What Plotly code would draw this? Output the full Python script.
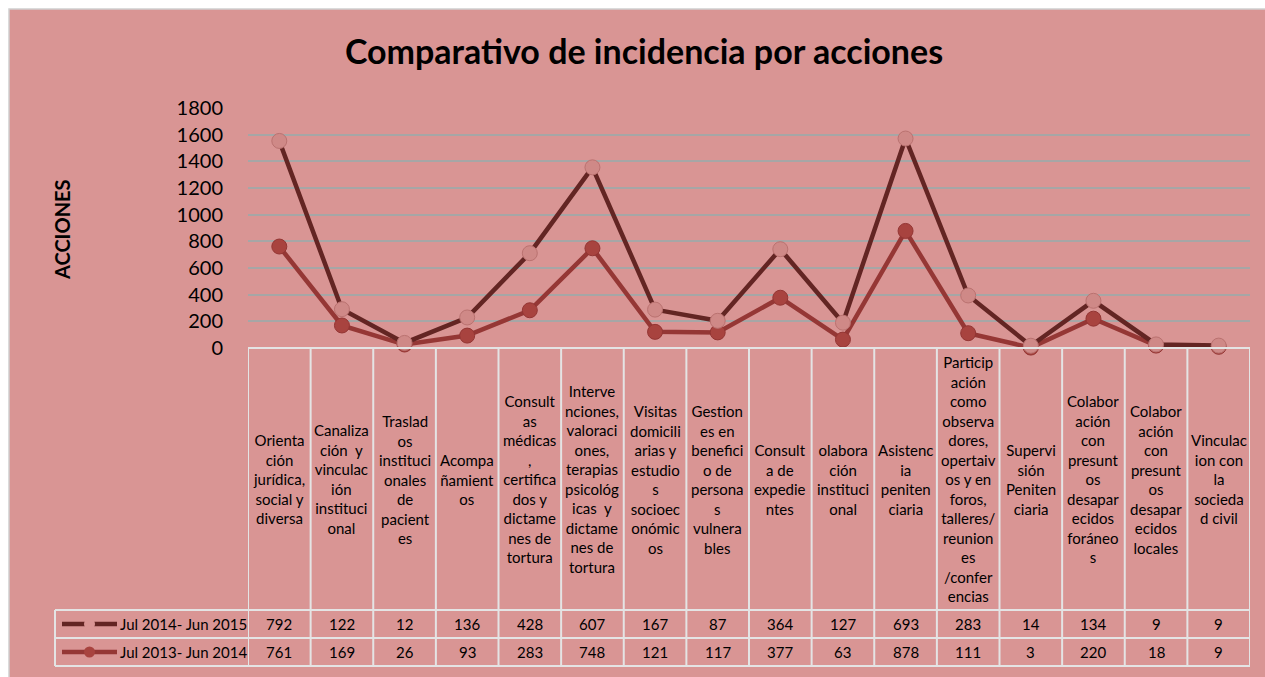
import plotly.graph_objects as go

# ---------------- data ----------------
categories = [
    "Orienta<br>ción<br>jurídica,<br>social y<br>diversa",
    "Canaliza<br>ción  y<br>vinculac<br>ión<br>instituci<br>onal",
    "Traslad<br>os<br>instituci<br>onales<br>de<br>pacient<br>es",
    "Acompa<br>ñamient<br>os",
    "Consult<br>as<br>médicas<br>,<br>certifica<br>dos y<br>dictame<br>nes de<br>tortura",
    "Interve<br>nciones,<br>valoraci<br>ones,<br>terapias<br>psicológ<br>icas  y<br>dictame<br>nes de<br>tortura",
    "Visitas<br>domicili<br>arias y<br>estudio<br>s<br>socioec<br>onómic<br>os",
    "Gestion<br>es en<br>benefici<br>o de<br>persona<br>s<br>vulnera<br>bles",
    "Consult<br>a de<br>expedie<br>ntes",
    "olabora<br>ción<br>instituci<br>onal",
    "Asistenc<br>ia<br>peniten<br>ciaria",
    "Particip<br>ación<br>como<br>observa<br>dores,<br>opertaiv<br>os y en<br>foros,<br>talleres/<br>reunion<br>es<br>/confer<br>encias",
    "Supervi<br>sión<br>Peniten<br>ciaria",
    "Colabor<br>ación<br>con<br>presunt<br>os<br>desapar<br>ecidos<br>foráneo<br>s",
    "Colabor<br>ación<br>con<br>presunt<br>os<br>desapar<br>ecidos<br>locales",
    "Vinculac<br>ion con<br>la<br>socieda<br>d civil",
]
series_2015_name = "Jul 2014- Jun 2015"
series_2015 = [792, 122, 12, 136, 428, 607, 167, 87, 364, 127, 693, 283, 14, 134, 9, 9]
series_2014_name = "Jul 2013- Jun 2014"
series_2014 = [761, 169, 26, 93, 283, 748, 121, 117, 377, 63, 878, 111, 3, 220, 18, 9]
y_ticks = [0, 200, 400, 600, 800, 1000, 1200, 1400, 1600, 1800]

# stacked line chart (as in the original): upper series drawn on top of lower one
stacked_2015 = [a + b for a, b in zip(series_2014, series_2015)]

# ---------------- styling ----------------
FONT = "Lato"
W, H = 1265, 677
L, R, T, B = 248, 15, 108, 329
PW = W - L - R
PH = H - T - B
BG = "#D99594"
PLOTBG = "#F2DCDB"
DARK = "#632523"
DARK_MK = "#CF8987"
DARK_MK_EDGE = "#BA7270"
RED = "#953735"
RED_MK = "#A8433F"
RED_MK_EDGE = "#933533"
BORDER = "#E4E4E4"


def px_x(px):
    return (px - L) / PW


def px_y(py):
    return (H - B - py) / PH


xs = list(range(len(categories)))

fig = go.Figure()
fig.add_trace(go.Scatter(
    x=xs, y=series_2014, name=series_2014_name,
    mode="lines+markers", line=dict(color=RED, width=4.5),
    marker=dict(color=RED_MK, size=15, opacity=1, line=dict(width=1, color=RED_MK_EDGE)),
    cliponaxis=False,
))
fig.add_trace(go.Scatter(
    x=xs, y=stacked_2015, name=series_2015_name,
    mode="lines+markers", line=dict(color=DARK, width=4.5),
    marker=dict(color=DARK_MK, size=15, opacity=1, line=dict(width=1, color=DARK_MK_EDGE)),
    cliponaxis=False,
))

shapes = []
annotations = []

# chart background frame
shapes.append(dict(type="rect", xref="paper", yref="paper", layer="below",
                   x0=px_x(9), x1=px_x(1275), y0=px_y(690), y1=px_y(9),
                   fillcolor=BG, line=dict(color="#D0D0D0", width=1.5)))

# table lines
y_head_top, y_row1, y_row2, y_bot = 348, 610, 638, 666
for i in range(len(categories) + 1):
    shapes.append(dict(type="line", xref="x", yref="paper",
                       x0=i - 0.5, x1=i - 0.5, y0=px_y(y_head_top), y1=px_y(y_bot),
                       line=dict(color=BORDER, width=2)))
shapes.append(dict(type="line", xref="x", yref="paper", x0=-0.5, x1=len(categories) - 0.5,
                   y0=px_y(y_head_top), y1=px_y(y_head_top), line=dict(color=BORDER, width=2)))
for yy in (y_row1, y_row2, y_bot):
    shapes.append(dict(type="line", xref="paper", yref="paper", x0=px_x(55), x1=1,
                       y0=px_y(yy), y1=px_y(yy), line=dict(color=BORDER, width=2)))
shapes.append(dict(type="line", xref="paper", yref="paper", x0=px_x(55), x1=px_x(55),
                   y0=px_y(y_row1), y1=px_y(y_bot), line=dict(color=BORDER, width=2)))

# legend samples inside table
ry1 = (y_row1 + y_row2) / 2
ry2 = (y_row2 + y_bot) / 2
shapes.append(dict(type="line", xref="paper", yref="paper", x0=px_x(62), x1=px_x(117),
                   y0=px_y(ry1), y1=px_y(ry1), line=dict(color=DARK, width=4.5)))
shapes.append(dict(type="circle", xref="paper", yref="paper",
                   x0=px_x(84), x1=px_x(95), y0=px_y(ry1 + 5.5), y1=px_y(ry1 - 5.5),
                   fillcolor=BG, line=dict(width=0)))
shapes.append(dict(type="line", xref="paper", yref="paper", x0=px_x(62), x1=px_x(117),
                   y0=px_y(ry2), y1=px_y(ry2), line=dict(color=RED, width=4.5)))
shapes.append(dict(type="circle", xref="paper", yref="paper",
                   x0=px_x(84), x1=px_x(95), y0=px_y(ry2 + 5.5), y1=px_y(ry2 - 5.5),
                   fillcolor=RED_MK, line=dict(width=0)))
annotations.append(dict(text=series_2015_name, xref="paper", yref="paper",
                        x=px_x(118), y=px_y(ry1), xanchor="left", yanchor="middle",
                        showarrow=False, font=dict(family=FONT, size=15, color="black")))
annotations.append(dict(text=series_2014_name, xref="paper", yref="paper",
                        x=px_x(118), y=px_y(ry2), xanchor="left", yanchor="middle",
                        showarrow=False, font=dict(family=FONT, size=15, color="black")))

# category labels and values
for i, cat in enumerate(categories):
    annotations.append(dict(text=cat, xref="x", yref="paper", x=i,
                            y=px_y((y_head_top + y_row1) / 2), xanchor="center", yanchor="middle",
                            showarrow=False, align="center",
                            font=dict(family=FONT, size=15, color="black")))
    annotations.append(dict(text=str(series_2015[i]), xref="x", yref="paper", x=i,
                            y=px_y(ry1), xanchor="center", yanchor="middle", showarrow=False,
                            font=dict(family=FONT, size=15, color="black")))
    annotations.append(dict(text=str(series_2014[i]), xref="x", yref="paper", x=i,
                            y=px_y(ry2), xanchor="center", yanchor="middle", showarrow=False,
                            font=dict(family=FONT, size=15, color="black")))

# y-axis title
annotations.append(dict(text="<b>ACCIONES</b>", xref="paper", yref="paper",
                        x=px_x(62), y=px_y(230), textangle=-90, showarrow=False,
                        xanchor="center", yanchor="middle",
                        font=dict(family=FONT, size=20, color="black")))

fig.update_layout(
    width=W, height=H,
    margin=dict(l=L, r=R, t=T, b=B),
    paper_bgcolor="white",
    plot_bgcolor=PLOTBG,
    showlegend=False,
    title=dict(text="<b>Comparativo de incidencia por acciones</b>", x=644 / W, xref="container",
               xanchor="center", y=1 - 52 / H, yanchor="middle",
               font=dict(family=FONT, size=34, color="black")),
    xaxis=dict(range=[-0.5, len(categories) - 0.5], showticklabels=False, showgrid=False,
               zeroline=False, showline=False, ticks=""),
    yaxis=dict(range=[0, 1800], tickvals=y_ticks, ticktext=[str(v) for v in y_ticks],
               showgrid=True, gridcolor="#A6A6A6", gridwidth=1.5, zeroline=False,
               showline=False, ticks="", ticklabelstandoff=24,
               tickfont=dict(family=FONT, size=20, color="black")),
    shapes=shapes,
    annotations=annotations,
    hovermode=False,
)

fig.write_html("out.html", config={"displayModeBar": False},
               post_script="document.body.style.margin='0px';document.body.style.overflow='hidden';")
